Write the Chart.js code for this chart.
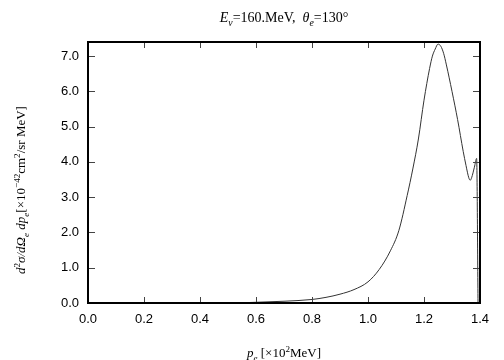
<!DOCTYPE html>
<html>
<head>
<meta charset="utf-8">
<script src="https://cdn.jsdelivr.net/npm/chart.js@4.4.1/dist/chart.umd.min.js"></script>
<style>
  html, body { margin: 0; padding: 0; background: #fff; }
  #wrap { width: 504px; height: 360px; }
</style>
</head>
<body>
<div id="wrap"><canvas id="xsecChart" width="504" height="360"></canvas></div>
<script>
// electron momentum p_e [x10^2 MeV]
var momentum = [0.0, 0.5, 0.6, 0.7, 0.8, 0.85, 0.9, 0.95, 1.0, 1.04, 1.08, 1.11, 1.14,
                1.16, 1.18, 1.20, 1.22, 1.23, 1.24, 1.25, 1.26, 1.27, 1.28, 1.30, 1.32, 1.34,
                1.35, 1.36, 1.365, 1.37, 1.38, 1.388, 1.393];
// d2sigma/dOmega dp [x10^-42 cm2/sr MeV]
var crossSection = [0.0, 0.0, 0.02, 0.05, 0.10, 0.16, 0.25, 0.38, 0.60, 0.95, 1.48, 2.05, 3.05,
                    3.8, 4.65, 5.75, 6.65, 7.0, 7.2, 7.34, 7.28, 7.08, 6.75, 6.0, 5.2, 4.3,
                    3.9, 3.55, 3.48, 3.55, 3.85, 4.1, 0.0];
var xTickValues = [0.0, 0.2, 0.4, 0.6, 0.8, 1.0, 1.2, 1.4];
var yTickValues = [0, 1, 2, 3, 4, 5, 6, 7];

var serif = '"Liberation Serif", "DejaVu Serif", serif';
var sans = '"Liberation Sans", Arial, sans-serif';

// 글자 조각(이탤릭, 위첨자, 아래첨자) 그리기
function drawRuns(ctx, runs, x, y, size) {
    var total = 0;
    runs.forEach(function (r) {
        var s = (r.sub || r.sup) ? size * 0.7 : size;
        ctx.font = (r.it ? 'italic ' : '') + s + 'px ' + serif;
        r.w = ctx.measureText(r.t).width;
        r.s = s;
        total += r.w;
    });
    var cx = x - total / 2;
    ctx.textAlign = 'left';
    ctx.textBaseline = 'alphabetic';
    ctx.fillStyle = '#000';
    runs.forEach(function (r) {
        ctx.font = (r.it ? 'italic ' : '') + r.s + 'px ' + serif;
        var dy = r.sub ? size * 0.3 : (r.sup ? -size * 0.4 : 0);
        ctx.fillText(r.t, cx, y + dy);
        cx += r.w;
    });
}

var framePlugin = {
    id: 'framePlugin',
    afterDraw: function (chart) {
        var ctx = chart.ctx;
        var a = chart.chartArea;
        var xs = chart.scales.x, ys = chart.scales.y;
        ctx.save();

        // inward ticks
        ctx.strokeStyle = '#444';
        ctx.lineWidth = 1;
        ctx.beginPath();
        xs.ticks.forEach(function (t) {
            var px = Math.round(xs.getPixelForValue(t.value)) + 0.5;
            ctx.moveTo(px, a.bottom); ctx.lineTo(px, a.bottom - 6);
            ctx.moveTo(px, a.top); ctx.lineTo(px, a.top + 6);
        });
        ys.ticks.forEach(function (t) {
            var py = Math.round(ys.getPixelForValue(t.value)) + 0.5;
            ctx.moveTo(a.left, py); ctx.lineTo(a.left + 7, py);
            ctx.moveTo(a.right, py); ctx.lineTo(a.right - 7, py);
        });
        ctx.stroke();

        // frame
        ctx.strokeStyle = '#000';
        ctx.lineWidth = 2;
        ctx.strokeRect(a.left, a.top, a.right - a.left, a.bottom - a.top);

        // title
        drawRuns(ctx, [
            { t: 'E', it: true }, { t: 'ν', it: true, sub: true },
            { t: '=160.MeV,  ' },
            { t: 'θ', it: true }, { t: 'e', it: true, sub: true },
            { t: '=130°' }
        ], (a.left + a.right) / 2, 22, 14);

        // x axis title
        drawRuns(ctx, [
            { t: 'p', it: true }, { t: 'e', it: true, sub: true },
            { t: ' [×10' }, { t: '2', sup: true }, { t: 'MeV]' }
        ], (a.left + a.right) / 2, 357, 13);

        // y axis title
        ctx.translate(20, 190);
        ctx.rotate(-Math.PI / 2);
        drawRuns(ctx, [
            { t: 'd', it: true }, { t: '2', sup: true }, { t: 'σ/dΩ', it: true },
            { t: 'e', it: true, sub: true }, { t: ' dp', it: true }, { t: 'e', it: true, sub: true },
            { t: '[×10' }, { t: '−42', sup: true }, { t: 'cm' }, { t: '2', sup: true },
            { t: '/sr MeV]' }
        ], 0, 5, 13);

        ctx.restore();
    }
};

var ctx = document.getElementById('xsecChart').getContext('2d');
var xsecChart = new Chart(ctx, {
    type: 'line',
    data: {
        datasets: [{
            data: momentum.map(function (p, i) { return { x: p, y: crossSection[i] }; }),
            borderColor: '#333',
            borderWidth: 1,
            pointRadius: 0,
            fill: false,
            cubicInterpolationMode: 'monotone'
        }]
    },
    options: {
        responsive: false,
        animation: false,
        devicePixelRatio: 1,
        layout: { padding: { top: 42, right: 24, left: 0, bottom: 0 } },
        plugins: { legend: { display: false }, title: { display: false }, tooltip: { enabled: false } },
        scales: {
            x: {
                type: 'linear',
                min: 0, max: 1.4,
                afterBuildTicks: function (s) { s.ticks = xTickValues.map(function (v) { return { value: v }; }); },
                afterFit: function (s) { s.height = 57; },
                grid: { display: false, drawTicks: false },
                border: { display: false },
                ticks: {
                    padding: 9,
                    color: '#000',
                    font: { family: sans, size: 13 },
                    maxRotation: 0,
                    callback: function (v) { return Number(v).toFixed(1); }
                }
            },
            y: {
                type: 'linear',
                min: 0, max: 7.4,
                afterBuildTicks: function (s) { s.ticks = yTickValues.map(function (v) { return { value: v }; }); },
                afterFit: function (s) { s.width = 88; },
                grid: { display: false, drawTicks: false },
                border: { display: false },
                ticks: {
                    padding: 9,
                    color: '#000',
                    font: { family: sans, size: 13 },
                    callback: function (v) { return Number(v).toFixed(1); }
                }
            }
        }
    },
    plugins: [framePlugin]
});
</script>
</body>
</html>
